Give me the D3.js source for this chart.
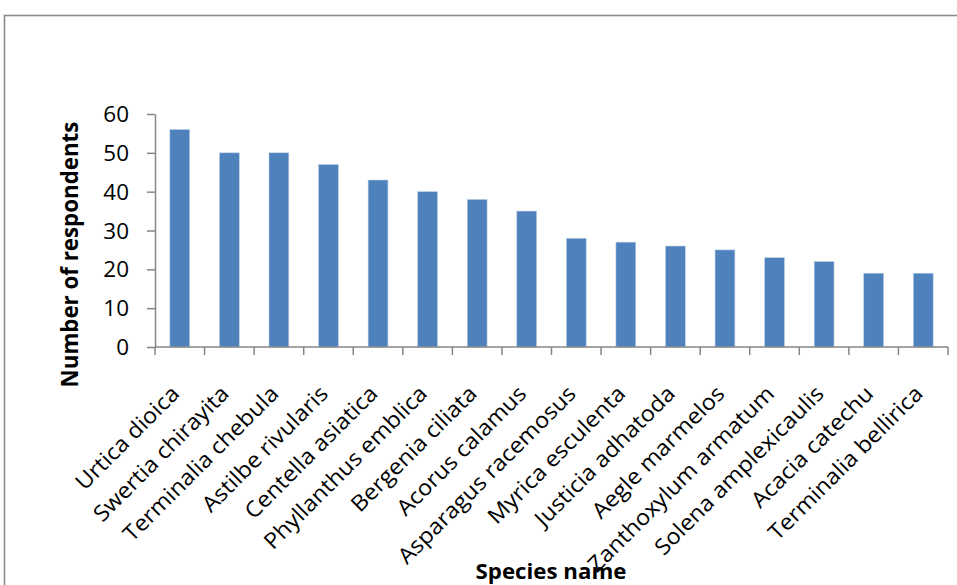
<!DOCTYPE html>
<html>
<head>
<meta charset="utf-8">
<script src="https://cdn.jsdelivr.net/npm/d3@7"></script>
<style>
  html, body { margin: 0; padding: 0; background: #fff; }
  svg { display: block; }
</style>
</head>
<body>
<svg id="chart" width="957" height="585"></svg>
<script>
// Medicinal plant species and number of respondents citing each
const species = [
  "Urtica dioica", "Swertia chirayita", "Terminalia chebula", "Astilbe rivularis",
  "Centella asiatica", "Phyllanthus emblica", "Bergenia ciliata", "Acorus calamus",
  "Asparagus racemosus", "Myrica esculenta", "Justicia adhatoda", "Aegle marmelos",
  "Zanthoxylum armatum", "Solena amplexicaulis", "Acacia catechu", "Terminalia bellirica"
];
const respondents = [56, 50, 50, 47, 43, 40, 38, 35, 28, 27, 26, 25, 23, 22, 19, 19];
const yTicks = [0, 10, 20, 30, 40, 50, 60];

const FONT = "'Open Sans', Lato, sans-serif";
const SX = 1.07; // slightly widened lettering
const svg = d3.select("#chart");

// chart frame
svg.append("rect")
  .attr("x", 4.5).attr("y", 15.5)
  .attr("width", 1000).attr("height", 1000)
  .attr("fill", "none").attr("stroke", "#8c8c8c").attr("stroke-width", 1.6);

const plot = { left: 155, right: 948, top: 114, bottom: 347 };

const x = d3.scaleBand()
  .domain(species)
  .range([plot.left, plot.right])
  .paddingInner(0.6)
  .paddingOuter(0.3);

const y = d3.scaleLinear()
  .domain([0, 60])
  .range([plot.bottom, plot.top]);

// bars
svg.append("g").selectAll("rect")
  .data(species)
  .join("rect")
  .attr("x", d => x(d))
  .attr("y", (d, i) => y(respondents[i]))
  .attr("width", x.bandwidth())
  .attr("height", (d, i) => y(0) - y(respondents[i]))
  .attr("fill", "#4f81bd")
  .attr("stroke", "#b9cde5")
  .attr("stroke-width", 0.6);

// y axis
const yAxis = svg.append("g")
  .attr("transform", `translate(${plot.left},0)`)
  .call(d3.axisLeft(y).tickValues(yTicks).tickSize(8).tickSizeOuter(0).tickFormat(() => ""));
yAxis.select(".domain").attr("stroke", "#868686").attr("stroke-width", 1.5);
yAxis.selectAll(".tick line").attr("stroke", "#868686").attr("stroke-width", 1.5);
yAxis.selectAll(".tick").append("text")
  .attr("transform", `translate(-26,0) scale(${SX},1)`)
  .attr("dy", "0.36em")
  .attr("text-anchor", "end")
  .attr("font-family", FONT).attr("font-size", 21).attr("fill", "#000")
  .text(d => d);

// x axis: tick marks at category boundaries
const boundaries = d3.range(species.length + 1)
  .map(i => plot.left + i * (plot.right - plot.left) / species.length);
const xAxisG = svg.append("g");
xAxisG.append("line")
  .attr("x1", plot.left).attr("x2", plot.right)
  .attr("y1", plot.bottom).attr("y2", plot.bottom)
  .attr("stroke", "#868686").attr("stroke-width", 1.5);
xAxisG.selectAll("line.tick")
  .data(boundaries)
  .join("line")
  .attr("class", "tick")
  .attr("x1", d => d).attr("x2", d => d)
  .attr("y1", plot.bottom).attr("y2", plot.bottom + 8)
  .attr("stroke", "#868686").attr("stroke-width", 1.5);

// rotated category labels
xAxisG.selectAll("text")
  .data(species)
  .join("text")
  .attr("transform", d => `translate(${x(d) + x.bandwidth() / 2 + 1},${plot.bottom + 48}) rotate(-45) scale(${SX},1)`)
  .attr("text-anchor", "end")
  .attr("font-family", FONT).attr("font-size", 22).attr("fill", "#000")
  .text(d => d);

// axis titles
svg.append("text")
  .attr("transform", `translate(77.5,254.5) rotate(-90)`)
  .attr("text-anchor", "middle")
  .attr("font-family", FONT).attr("font-size", 22.3).attr("font-weight", "bold")
  .text("Number of respondents");

svg.append("text")
  .attr("transform", `translate(551,579) scale(1.04,1)`)
  .attr("text-anchor", "middle")
  .attr("font-family", FONT).attr("font-size", 21.4).attr("font-weight", "bold")
  .text("Species name");
</script>
</body>
</html>
